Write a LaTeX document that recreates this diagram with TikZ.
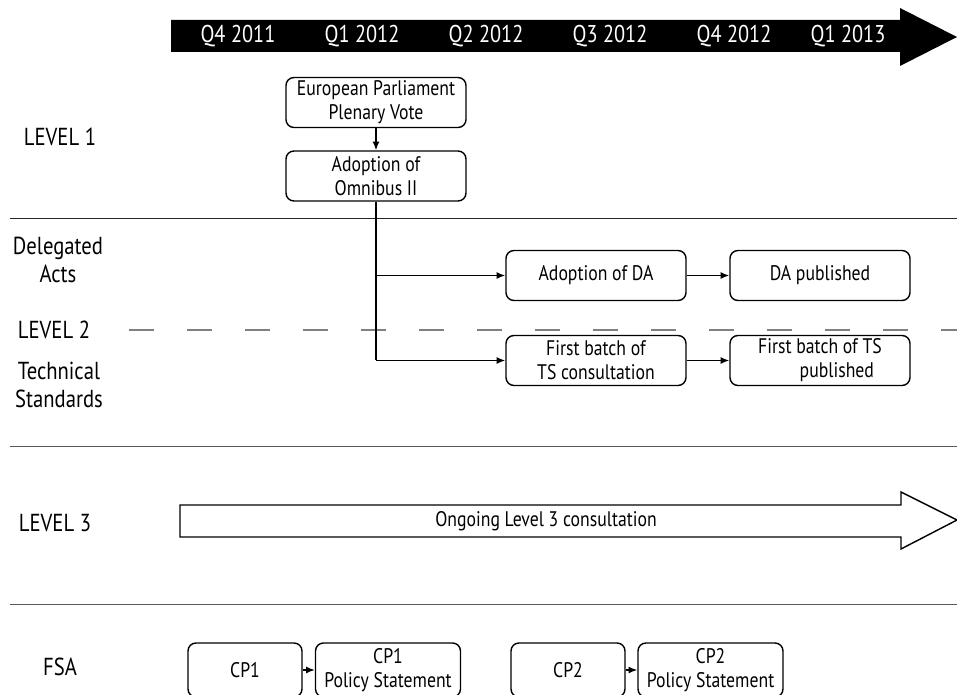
\documentclass[tikz,border=0pt]{standalone}
\usepackage{fontspec}
\setmainfont{PT Sans}[FakeStretch=0.84]
\usetikzlibrary{arrows.meta}
\begin{document}
\begin{tikzpicture}[x=0.02cm,y=-0.02cm,>={Latex[length=5pt,width=4pt]}]
        \tikzstyle{step box}=[draw,thick,rounded corners=4.5pt,align=center,font=\fontsize{12}{13.6}\selectfont,inner sep=1pt]
        \tikzstyle{big box}=[step box,minimum width=3.6cm,minimum height=1cm]
        \tikzstyle{small box}=[step box,minimum width=2.28cm,minimum height=1.08cm]
        \tikzstyle{wide box}=[step box,minimum width=2.9cm,minimum height=1.08cm]
        \tikzstyle{level}=[align=center,font=\fontsize{14}{15.5}\selectfont]
        \tikzstyle{quarter}=[text=white,font=\fontsize{13.8}{15}\selectfont]
        \tikzstyle{edge}=[draw,thick,->]
        \tikzstyle{rule}=[draw=black!65]
        \useasboundingbox (0,0) rectangle (957,695);
       % timeline
       \begin{scope}
         \fill[black] (171,20) -- (900,20) -- (900,8) -- (957,37) -- (900,66) -- (900,52) -- (171,52) -- cycle;
         \node [quarter] (q1) at (238,36) {Q4 2011};
         \node [quarter] (q2) at (362,36) {Q1 2012};
         \node [quarter] (q3) at (486,36) {Q2 2012};
         \node [quarter] (q4) at (610,36) {Q3 2012};
         \node [quarter] (q5) at (734,36) {Q4 2012};
         \node [quarter] (q6) at (848,36) {Q1 2013};
       \end{scope}
       % row labels
       \node [level] (l1) at (60,137) {LEVEL 1};
       \node [level] (da-lab) at (58,260) {Delegated\\Acts};
       \node [level] (l2) at (54,330) {LEVEL 2};
       \node [level] (ts-lab) at (59,385) {Technical\\Standards};
       \node [level] (l3) at (55,523) {LEVEL 3};
       \node [level] (fsa) at (60,667) {FSA};
       % separators
       \draw[rule,draw=black!85] (10,218) -- (957,218);
       \draw[rule] (10,446) -- (957,446);
       \draw[rule] (10,604) -- (957,604);
       \draw[black!50,thick,dash pattern=on 0.5cm off 0.66cm] (129,330) -- (957,330);
       % level 1 and 2
       \begin{scope}
         \node [big box] (ep) at (376,102.5) {European Parliament\\Plenary Vote};
         \node [big box] (omni) at (376,176) {Adoption of\\Omnibus II};
         \node [big box] (da) at (596,275.5) {Adoption of DA};
         \node [big box] (dapub) at (820,275.5) {DA published};
         \node [big box] (ts) at (596,360.5) {First batch of\\TS consultation};
         \node [big box] (tspub) at (820,360.5) {First batch of TS\\\hspace*{1.6em}published};
         \path[edge] (ep) -- (omni);
         \draw[thick] (omni.south) -- (omni.south |- ts.west);
         \path[edge] (omni.south |- da.west) -- (da);
         \path[edge] (omni.south |- ts.west) -- (ts);
         \path[edge] (da) -- (dapub);
         \path[edge] (ts) -- (tspub);
       \end{scope}
       % level 3
       \draw[thick] (180,505) -- (901,505) -- (901,492) -- (957,520) -- (901,549) -- (901,537) -- (180,537) -- cycle;
       \node [font=\fontsize{12}{13}\selectfont] (ongoing) at (546,521) {Ongoing Level 3 consultation};
       % fsa
       \begin{scope}
         \node [small box] (cp1) at (245,670) {CP1};
         \node [wide box] (cp1ps) at (388,670) {CP1\\Policy Statement};
         \node [small box] (cp2) at (568,670) {CP2};
         \node [wide box] (cp2ps) at (710.5,670) {CP2\\Policy Statement};
         \path[edge] (cp1) -- (cp1ps);
         \path[edge] (cp2) -- (cp2ps);
       \end{scope}
\end{tikzpicture}
\end{document}
